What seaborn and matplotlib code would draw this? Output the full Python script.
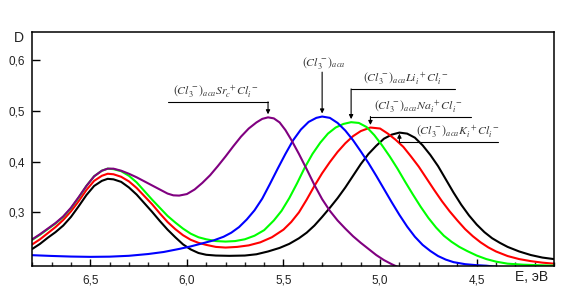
import matplotlib
matplotlib.use("Agg")
import matplotlib.pyplot as plt
import seaborn as sns
import pandas as pd
from matplotlib.ticker import FuncFormatter, MultipleLocator, FixedLocator

# ---- data ----
black_E = [6.80, 6.76, 6.72, 6.68, 6.64, 6.60, 6.56, 6.52, 6.48, 6.44, 6.41, 6.38, 6.34, 6.30, 6.26,
           6.22, 6.18, 6.14, 6.10, 6.06, 6.02, 5.98, 5.94, 5.90, 5.85, 5.78, 5.70, 5.64, 5.58, 5.52,
           5.47, 5.42, 5.38, 5.34, 5.30, 5.26, 5.22, 5.18, 5.14, 5.10, 5.06, 5.02, 4.98, 4.94, 4.90,
           4.86, 4.82, 4.78, 4.74, 4.70, 4.66, 4.62, 4.58, 4.54, 4.50, 4.46, 4.42, 4.38, 4.34, 4.28,
           4.22, 4.16, 4.10]
black_D = [0.228, 0.238, 0.250, 0.261, 0.274, 0.291, 0.312, 0.334, 0.352, 0.362, 0.366, 0.365, 0.360,
           0.349, 0.335, 0.318, 0.301, 0.283, 0.266, 0.251, 0.237, 0.227, 0.220, 0.2165, 0.2150,
           0.2144, 0.2150, 0.2175, 0.223, 0.230, 0.238, 0.249, 0.260, 0.274, 0.291, 0.309, 0.328,
           0.349, 0.372, 0.395, 0.415, 0.431, 0.445, 0.453, 0.457, 0.455, 0.447, 0.432, 0.413, 0.391,
           0.365, 0.339, 0.315, 0.294, 0.276, 0.261, 0.249, 0.240, 0.232, 0.223, 0.216, 0.211, 0.208]

red_E = [6.80, 6.76, 6.72, 6.68, 6.64, 6.60, 6.56, 6.52, 6.48, 6.44, 6.41, 6.38, 6.34, 6.30, 6.26,
         6.22, 6.18, 6.14, 6.10, 6.06, 6.02, 5.98, 5.94, 5.90, 5.85, 5.80, 5.74, 5.68, 5.62, 5.56,
         5.50, 5.46, 5.42, 5.38, 5.34, 5.30, 5.26, 5.22, 5.18, 5.14, 5.10, 5.05, 5.00, 4.96, 4.92,
         4.88, 4.84, 4.80, 4.76, 4.72, 4.68, 4.64, 4.60, 4.56, 4.52, 4.48, 4.44, 4.40, 4.34, 4.28,
         4.22, 4.16, 4.10]
red_D = [0.237, 0.247, 0.259, 0.271, 0.285, 0.302, 0.322, 0.344, 0.362, 0.372, 0.376, 0.375, 0.370,
         0.361, 0.348, 0.332, 0.316, 0.298, 0.281, 0.267, 0.255, 0.246, 0.240, 0.236, 0.232, 0.2307,
         0.232, 0.235, 0.241, 0.251, 0.266, 0.281, 0.300, 0.325, 0.352, 0.377, 0.399, 0.419, 0.436,
         0.450, 0.460, 0.467, 0.465, 0.455, 0.443, 0.429, 0.410, 0.390, 0.367, 0.344, 0.322, 0.302,
         0.284, 0.267, 0.253, 0.241, 0.231, 0.223, 0.214, 0.208, 0.204, 0.201, 0.199]

green_E = [6.80, 6.76, 6.72, 6.68, 6.64, 6.60, 6.56, 6.52, 6.48, 6.44, 6.41, 6.38, 6.34, 6.30, 6.26,
           6.22, 6.18, 6.14, 6.10, 6.06, 6.02, 5.98, 5.94, 5.90, 5.85, 5.80, 5.75, 5.70, 5.65, 5.60,
           5.55, 5.51, 5.47, 5.43, 5.39, 5.35, 5.31, 5.27, 5.23, 5.19, 5.15, 5.11, 5.07, 5.03, 4.99,
           4.95, 4.91, 4.87, 4.83, 4.79, 4.75, 4.71, 4.67, 4.63, 4.59, 4.55, 4.50, 4.45, 4.40, 4.34,
           4.26, 4.18, 4.10]
green_D = [0.246, 0.256, 0.267, 0.278, 0.291, 0.308, 0.329, 0.352, 0.371, 0.382, 0.386, 0.385, 0.381,
           0.372, 0.359, 0.342, 0.325, 0.309, 0.293, 0.280, 0.268, 0.258, 0.251, 0.247, 0.2435,
           0.2425, 0.2435, 0.247, 0.254, 0.265, 0.284, 0.303, 0.328, 0.357, 0.388, 0.415, 0.437,
           0.455, 0.467, 0.474, 0.4775, 0.476, 0.468, 0.452, 0.432, 0.410, 0.386, 0.360, 0.335,
           0.311, 0.289, 0.270, 0.254, 0.242, 0.232, 0.224, 0.215, 0.208, 0.203, 0.199, 0.197,
           0.196, 0.195]

blue_E = [6.80, 6.70, 6.60, 6.50, 6.40, 6.30, 6.20, 6.12, 6.04, 5.98, 5.92, 5.86, 5.81, 5.77, 5.73,
          5.69, 5.65, 5.61, 5.57, 5.53, 5.49, 5.45, 5.41, 5.37, 5.33, 5.30, 5.26, 5.22, 5.18, 5.14,
          5.10, 5.06, 5.02, 4.98, 4.94, 4.90, 4.86, 4.82, 4.78, 4.74, 4.70, 4.66, 4.62, 4.56, 4.50,
          4.45, 4.40]
blue_D = [0.2157, 0.2142, 0.2130, 0.2124, 0.2128, 0.2145, 0.218, 0.222, 0.228, 0.233, 0.239, 0.245,
          0.252, 0.260, 0.271, 0.286, 0.304, 0.327, 0.356, 0.386, 0.415, 0.442, 0.463, 0.478, 0.486,
          0.4886, 0.486, 0.476, 0.461, 0.442, 0.420, 0.397, 0.372, 0.346, 0.320, 0.295, 0.272,
          0.252, 0.236, 0.224, 0.214, 0.207, 0.202, 0.198, 0.196, 0.195, 0.193]

purple_E = [6.80, 6.76, 6.72, 6.68, 6.64, 6.60, 6.56, 6.52, 6.48, 6.44, 6.41, 6.38, 6.34, 6.30, 6.26,
            6.22, 6.18, 6.14, 6.10, 6.07, 6.04, 6.00, 5.96, 5.92, 5.88, 5.84, 5.80, 5.76, 5.72, 5.68,
            5.64, 5.61, 5.58, 5.55, 5.52, 5.49, 5.46, 5.42, 5.38, 5.34, 5.30, 5.26, 5.22, 5.18, 5.14,
            5.10, 5.06, 5.02, 4.98, 4.94, 4.90]
purple_D = [0.247, 0.257, 0.268, 0.279, 0.292, 0.309, 0.330, 0.352, 0.371, 0.382, 0.386, 0.386, 0.382,
            0.376, 0.369, 0.361, 0.353, 0.345, 0.337, 0.3335, 0.333, 0.336, 0.345, 0.358, 0.373,
            0.391, 0.410, 0.430, 0.449, 0.465, 0.477, 0.484, 0.487, 0.485, 0.477, 0.462, 0.443,
            0.415, 0.385, 0.354, 0.326, 0.303, 0.284, 0.268, 0.253, 0.240, 0.228, 0.216, 0.206,
            0.198, 0.191]

labels = {
    "purple": r"$(Cl_{3}^{\,-})_{aca}Sr_{c}^{\;+}Cl_{i}^{\,-}$",
    "blue": r"$(Cl_{3}^{\,-})_{aca}$",
    "green": r"$(Cl_{3}^{\,-})_{aca}Li_{i}^{\;+}Cl_{i}^{\,-}$",
    "red": r"$(Cl_{3}^{\,-})_{aca}Na_{i}^{\;+}Cl_{i}^{\,-}$",
    "black": r"$(Cl_{3}^{\,-})_{aca}K_{i}^{\;+}Cl_{i}^{\,-}$",
}
x_major = [6.5, 6.0, 5.5, 5.0, 4.5]
y_major = [0.3, 0.4, 0.5, 0.6]

# ---- figure ----
sns.set_theme(style="white")
plt.rcParams["font.family"] = ["Liberation Sans", "DejaVu Sans"]
plt.rcParams["mathtext.fontset"] = "stix"

fig = plt.figure(figsize=(5.76, 2.99), dpi=100)
ax = fig.add_axes([32.3 / 576, 1 - 265.7 / 299, (554 - 32.3) / 576, (265.7 - 31.5) / 299])

series = [
    ("black", black_E, black_D, "#000000"),
    ("red", red_E, red_D, "#ff0000"),
    ("green", green_E, green_D, "#00ff00"),
    ("blue", blue_E, blue_D, "#0000ff"),
    ("purple", purple_E, purple_D, "#800080"),
]
for name, E, D, c in series:
    df = pd.DataFrame({"E": E, "D": D})
    sns.lineplot(data=df, x="E", y="D", color=c, lw=1.5, ax=ax, sort=False, estimator=None)

ax.set_xlim(6.8, 4.1)
ax.set_ylim(0.195, 0.656)
ax.set_xlabel("")
ax.set_ylabel("")

for s in ax.spines.values():
    s.set_visible(True)
    s.set_color("black")
    s.set_linewidth(1.1)

ax.xaxis.set_major_locator(FixedLocator(x_major))
ax.xaxis.set_minor_locator(MultipleLocator(0.1))
ax.yaxis.set_major_locator(FixedLocator(y_major))
fmt = FuncFormatter(lambda v, p: f"{v:.1f}".replace(".", ","))
ax.xaxis.set_major_formatter(fmt)
ax.yaxis.set_major_formatter(fmt)
ax.tick_params(axis="x", which="major", direction="in", length=5, width=1, pad=6,
               labelsize=8.5, bottom=True, top=False, colors="black")
ax.tick_params(axis="x", which="minor", direction="in", length=3, width=1, bottom=True, top=False)
ax.tick_params(axis="y", which="major", direction="in", length=6, width=1, pad=5,
               labelsize=8.5, left=True, right=False, colors="black")
for t in ax.get_xticklabels() + ax.get_yticklabels():
    t.set_color("#222222")

fig.text(18.5 / 576, 1 - 38 / 299, "D", fontsize=10, ha="center", va="center", color="#222222")
fig.text(532 / 576, 1 - 277 / 299, "E, эВ", fontsize=10, ha="center", va="center", color="#222222")

# ---- annotations ----
arrow = dict(arrowstyle="-|>", color="black", lw=0.8, mutation_scale=6, shrinkA=0, shrinkB=0)
lk = dict(color="black", lw=0.8, clip_on=False)
tk = dict(fontsize=8.5, ha="center", va="bottom", color="#333333")

def peak(E, D):
    i = max(range(len(D)), key=lambda k: D[k])
    return E[i], D[i]

# purple: line to the left, arrow down
pe, pd_ = peak(purple_E, purple_D)
ax.plot([6.098, pe], [0.5175, 0.5175], **lk)
ax.annotate("", xy=(pe, pd_ + 0.006), xytext=(pe, 0.5175), arrowprops=arrow)
ax.text(5.85, 0.521, labels["purple"], **tk)

# blue: vertical arrow down from label
be, bd = peak(blue_E, blue_D)
ax.annotate("", xy=(be, bd + 0.006), xytext=(be, 0.576), arrowprops=arrow)
ax.text(be - 0.01, 0.579, labels["blue"], **tk)

# green: line to right, arrow down
ge, gd = peak(green_E, green_D)
ax.plot([ge, 4.613], [0.543, 0.543], **lk)
ax.annotate("", xy=(ge, gd + 0.006), xytext=(ge, 0.543), arrowprops=arrow)
ax.text(4.87, 0.547, labels["green"], **tk)

# red
re_, rd = peak(red_E, red_D)
ax.plot([re_, 4.527], [0.4886, 0.4886], **lk)
ax.annotate("", xy=(re_, rd + 0.005), xytext=(re_, 0.4886), arrowprops=arrow)
ax.text(4.80, 0.492, labels["red"], **tk)

# black: arrow up to peak
ke, kd = peak(black_E, black_D)
ax.plot([ke, 4.389], [0.439, 0.439], **lk)
ax.annotate("", xy=(ke, kd - 0.002), xytext=(ke, 0.439), arrowprops=arrow)
ax.text(4.60, 0.442, labels["black"], **tk)

fig.savefig("out.png", dpi=100, facecolor="white")
